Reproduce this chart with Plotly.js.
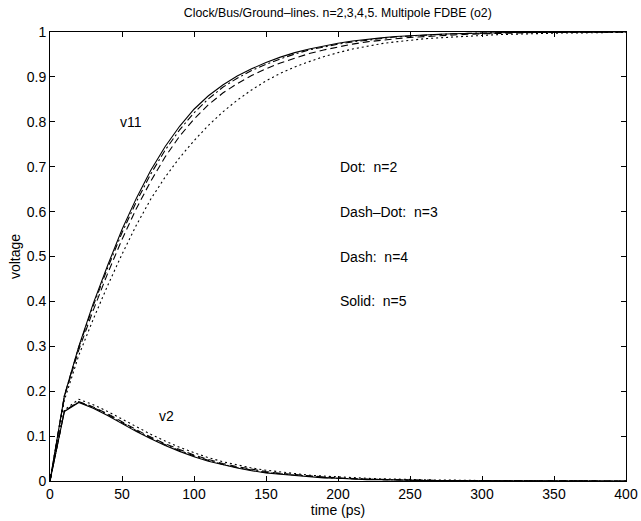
<!DOCTYPE html>
<html>
<head>
<meta charset="utf-8">
<script src="https://cdn.plot.ly/plotly-3.0.1.min.js"></script>
<style>html,body{margin:0;padding:0;background:#fff;}#chart{width:641px;height:521px;}</style>
</head>
<body>
<div id="chart"></div>
<script>
const time = [0,10,20,30,40,50,60,70,80,90,100,110,120,130,140,150,160,170,180,190,200,210,220,230,240,250,260,270,280,290,300,310,320,330,340,350,360,370,380,390,400];

const v11_n5 = [0,0.19,0.30,0.395,0.48,0.56,0.63,0.692,0.745,0.79,0.828,0.858,0.882,0.902,0.918,0.932,0.944,0.954,0.962,0.969,0.975,0.98,0.984,0.987,0.99,0.992,0.994,0.995,0.996,0.997,0.998,0.998,0.999,0.999,0.999,1.0,1.0,1.0,1.0,1.0,1.0];
const v11_n3 = [0,0.19,0.298,0.39,0.474,0.553,0.622,0.684,0.737,0.782,0.82,0.851,0.877,0.897,0.914,0.928,0.94,0.951,0.96,0.967,0.973,0.978,0.982,0.986,0.989,0.991,0.993,0.995,0.996,0.997,0.998,0.998,0.999,0.999,0.999,1.0,1.0,1.0,1.0,1.0,1.0];
const v11_n4 = [0,0.188,0.292,0.38,0.462,0.538,0.607,0.668,0.722,0.768,0.806,0.838,0.864,0.885,0.903,0.918,0.931,0.942,0.952,0.96,0.967,0.973,0.978,0.982,0.985,0.988,0.99,0.992,0.994,0.995,0.996,0.997,0.998,0.998,0.999,0.999,0.999,1.0,1.0,1.0,1.0];
const v11_n2 = [0,0.18,0.28,0.36,0.435,0.505,0.57,0.628,0.677,0.72,0.758,0.792,0.822,0.848,0.871,0.891,0.908,0.922,0.934,0.945,0.954,0.962,0.968,0.974,0.978,0.982,0.985,0.987,0.989,0.991,0.992,0.994,0.995,0.996,0.997,0.997,0.998,0.998,0.999,0.999,0.999];

const v2_n5 = [0,0.155,0.175,0.162,0.146,0.128,0.11,0.094,0.079,0.066,0.054,0.044,0.036,0.029,0.023,0.018,0.015,0.012,0.009,0.007,0.006,0.004,0.003,0.003,0.002,0.002,0.001,0.001,0.001,0.001,0,0,0,0,0,0,0,0,0,0,0];
const v2_n3 = [0,0.156,0.176,0.164,0.148,0.13,0.112,0.096,0.081,0.068,0.056,0.046,0.037,0.03,0.024,0.019,0.016,0.013,0.01,0.008,0.006,0.005,0.004,0.003,0.002,0.002,0.001,0.001,0.001,0.001,0,0,0,0,0,0,0,0,0,0,0];
const v2_n4 = [0,0.156,0.177,0.165,0.15,0.132,0.114,0.098,0.083,0.07,0.058,0.048,0.039,0.032,0.026,0.021,0.017,0.014,0.011,0.009,0.007,0.005,0.004,0.003,0.003,0.002,0.002,0.001,0.001,0.001,0.001,0,0,0,0,0,0,0,0,0,0];
const v2_n2 = [0,0.158,0.182,0.17,0.155,0.138,0.12,0.104,0.089,0.075,0.063,0.052,0.043,0.036,0.029,0.024,0.02,0.016,0.013,0.011,0.009,0.007,0.006,0.005,0.004,0.003,0.003,0.002,0.002,0.001,0.001,0.001,0.001,0,0,0,0,0,0,0,0];

const xTicks = [0,50,100,150,200,250,300,350,400];
const yTicks = [0,0.1,0.2,0.3,0.4,0.5,0.6,0.7,0.8,0.9,1];
const yTickText = ['0','0.1','0.2','0.3','0.4','0.5','0.6','0.7','0.8','0.9','1'];

const legendLines = ['Dot:  n=2','Dash–Dot:  n=3','Dash:  n=4','Solid:  n=5'];
const legendY = [0.7,0.6,0.5,0.4];

function tr(y, dash){
  return {x: time, y: y, type:'scatter', mode:'lines', showlegend:false,
          line:{color:'#000', width:1.1, dash:dash}, hoverinfo:'skip'};
}
const data = [
  tr(v11_n2,'2px,3px'), tr(v11_n3,'7px,3px,2px,3px'), tr(v11_n4,'7px,4px'), tr(v11_n5,'solid'),
  tr(v2_n2,'2px,3px'), tr(v2_n3,'7px,3px,2px,3px'), tr(v2_n4,'7px,4px'), tr(v2_n5,'solid')
];

const fam = 'Liberation Sans, Arial, Helvetica, sans-serif';
const font = {family:fam, size:14, color:'#000'};
const titleFont = {family:fam, size:12.3, color:'#000'};
const annotations = legendLines.map((t,i)=>({x:200, y:legendY[i], xref:'x', yref:'y', text:t,
  showarrow:false, xanchor:'left', yanchor:'middle', font:font}));
annotations.push({x:47, y:0.8, xref:'x', yref:'y', text:'v11', showarrow:false, xanchor:'left', yanchor:'middle', font:font});
annotations.push({x:74, y:0.145, xref:'x', yref:'y', text:'v2', showarrow:false, xanchor:'left', yanchor:'middle', font:font});

const layout = {
  width:641, height:521,
  margin:{l:50, r:15, t:32, b:40},
  paper_bgcolor:'#fff', plot_bgcolor:'#fff',
  font:font,
  title:{text:'Clock/Bus/Ground–lines. n=2,3,4,5. Multipole FDBE (o2)', font:titleFont,
         x:0.527, xanchor:'center', xref:'container', y:1-13/521, yanchor:'middle', yref:'container'},
  xaxis:{range:[0,400], tickvals:xTicks, ticktext:xTicks.map(String), ticks:'inside', ticklen:5,
         showline:true, mirror:'ticks', linecolor:'#000', linewidth:1, tickcolor:'#000',
         showgrid:false, zeroline:false, tickfont:font,
         title:{text:'time (ps)', font:font, standoff:1}},
  yaxis:{range:[0,1], tickvals:yTicks, ticktext:yTickText, ticks:'inside', ticklen:5,
         showline:true, mirror:'ticks', linecolor:'#000', linewidth:1, tickcolor:'#000',
         showgrid:false, zeroline:false, tickfont:font,
         title:{text:'voltage', font:font, standoff:2}},
  annotations:annotations
};
Plotly.newPlot('chart', data, layout, {staticPlot:true, displayModeBar:false});
</script>
</body>
</html>
